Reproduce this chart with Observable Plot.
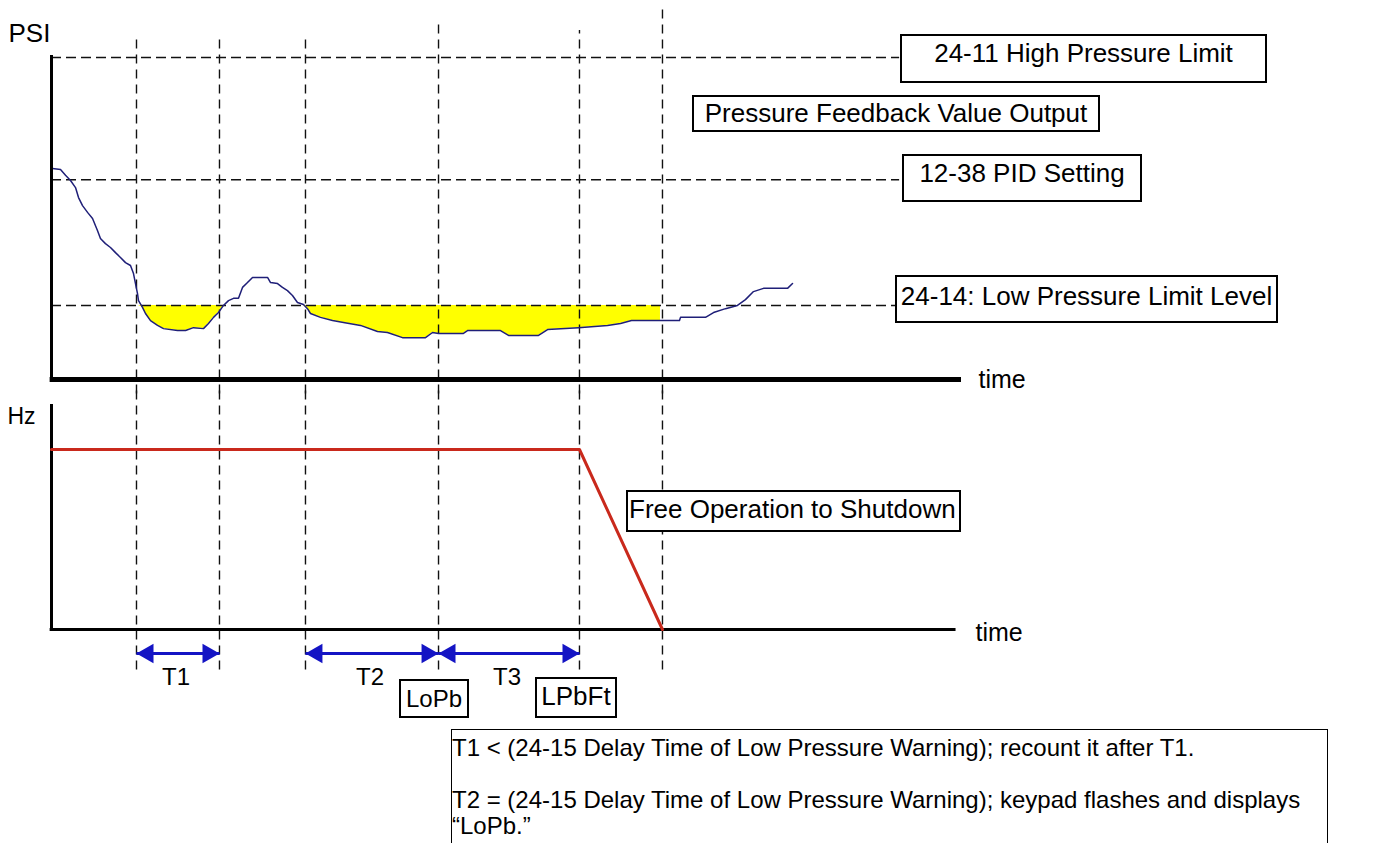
<!DOCTYPE html>
<html><head><meta charset="utf-8">
<script src="https://cdn.jsdelivr.net/npm/d3@7"></script>
<script src="https://cdn.jsdelivr.net/npm/@observablehq/plot@0.6"></script>
<style>
html,body{margin:0;padding:0;background:#fff;}
#chart{position:relative;width:1384px;height:843px;overflow:hidden;font-family:"Liberation Sans",Arial,sans-serif;color:#000;background:#fff;}
#chart svg{position:absolute;left:0;overflow:visible;}
.box{position:absolute;box-sizing:border-box;border:2px solid #000;background:#fff;font-size:26px;line-height:26px;text-align:center;white-space:nowrap;overflow:hidden;}
</style></head><body><div id="chart"></div>
<script>
// ---------------- data ----------------
// pressure feedback curve (time units, PSI units)
const pTime = [0.11,0.99,1.54,2.09,2.64,2.97,3.41,3.96,4.51,5.05,5.38,5.93,6.48,7.03,7.58,8.13,8.68,9.01,9.23,9.45,9.56,10.0,10.33,10.88,11.65,12.31,13.85,14.73,15.6,16.7,17.25,17.8,18.35,18.9,19.45,20.0,20.55,20.99,21.54,22.09,23.74,24.07,24.84,25.38,25.93,26.48,27.03,27.69,28.13,28.46,29.56,30.88,32.09,33.96,35.82,36.92,38.57,41.1,41.87,42.53,45.27,45.71,49.34,50.22,53.52,54.51,57.91,61.1,62.53,63.74,66.92,69.01,69.12,71.87,72.75,74.07,75.38,76.26,77.14,78.24,80.88,81.43];
const pPsi = [65.5,65.2,63.4,61.8,59.6,56.5,54.0,51.9,50.0,46.3,43.8,42.2,41.0,39.4,37.9,36.3,35.4,32.9,29.8,26.7,24.5,22.4,20.5,18.3,16.8,15.8,15.2,15.2,16.1,15.8,17.4,19.3,20.8,23.0,24.5,25.2,25.2,28.6,30.1,31.7,31.7,30.1,29.8,28.6,27.6,26.1,23.9,23.3,22.0,20.5,19.3,18.3,17.7,16.8,14.9,14.6,13.0,13.0,14.6,14.3,14.3,15.2,15.2,13.7,13.7,15.5,16.1,16.8,17.4,18.3,18.3,18.3,19.3,19.3,20.8,22.0,23.0,24.8,27.3,28.3,28.3,29.8];
// threshold levels (PSI)
const levelNames = ["24-11 High Pressure Limit", "12-38 PID Setting", "24-14: Low Pressure Limit Level"];
const levelPsi = [100, 62, 23];
// event times (vertical markers)
const eventTimes = [9.34, 18.46, 27.91, 42.53, 58.02, 67.14];
// output frequency (Hz)
const hzTime = [0, 58.02, 67.14];
const hzValue = [60, 60, 0];
// intervals
const intervalNames = ["T1", "T2", "T3"];
const intervalStart = [9.34, 27.91, 42.53];
const intervalEnd = [18.46, 42.53, 58.02];
// annotation texts
const curveLabel = "Pressure Feedback Value Output";
const freqLabel = "Free Operation to Shutdown";
const stateLabels = ["LoPb", "LPbFt"];
const notes = [
  "T1 < (24-15 Delay Time of Low Pressure Warning); recount it after T1.",
  "T2 = (24-15 Delay Time of Low Pressure Warning); keypad flashes and displays \u201CLoPb.\u201D"
];

// ---------------- build ----------------
const FONT = '"Liberation Sans", Arial, sans-serif';
const BLUE = "#1414c4";
const lowPsi = levelPsi[2];
const rows = pTime.map((t, i) => ({t, psi: pPsi[i]}));
const fillRows = rows.filter(d => d.t <= eventTimes[5]);
const hzRows = hzTime.map((t, i) => ({t, hz: hzValue[i]}));
const intervals = intervalNames.map((name, i) => ({name, start: intervalStart[i], end: intervalEnd[i]}));
const eventTopPsi = [106.8, 106.8, 106.8, 110.6, 108.4, 115.2];

const chart = document.getElementById("chart");

const topPanel = Plot.plot({
  width: 1384, height: 392,
  marginLeft: 51, marginRight: 423, marginTop: 57, marginBottom: 13,
  x: {domain: [0, 100], axis: null},
  y: {domain: [0, 100], axis: null},
  style: {fontFamily: FONT, background: "transparent", color: "#000"},
  marks: [
    Plot.areaY(fillRows, {x: "t", y1: lowPsi, y2: d => Math.min(d.psi, lowPsi), fill: "#ffff00"}),
    Plot.ruleX(eventTimes, {x: d => d, y1: -4.5, y2: (d, i) => eventTopPsi[i], stroke: "#111", strokeWidth: 1.4, strokeDasharray: "9,6"}),
    Plot.ruleY(levelPsi, {y: d => d, x1: 0, x2: 93.2, stroke: "#111", strokeWidth: 1.5, strokeDasharray: "10,5"}),
    Plot.line(rows, {x: "t", y: "psi", stroke: "#1f1f78", strokeWidth: 1.5}),
    Plot.ruleX([0], {y1: 0, y2: 100.6, stroke: "#000", strokeWidth: 3}),
    Plot.ruleY([0], {x1: -0.15, x2: 100, stroke: "#000", strokeWidth: 5}),
    Plot.text(["PSI"], {x: 0, y: 107.5, textAnchor: "start", dx: -43, fontSize: 26, fill: "#000"}),
    Plot.text(["time"], {x: 100, y: 0, textAnchor: "start", dx: 17, fontSize: 25, fill: "#000"})
  ]
});
topPanel.style.top = "0px";
chart.appendChild(topPanel);

const bottomPanel = Plot.plot({
  width: 1384, height: 451,
  marginLeft: 51, marginRight: 423, marginTop: 12, marginBottom: 214,
  x: {domain: [0, 100], axis: null},
  y: {domain: [0, 75], axis: null},
  style: {fontFamily: FONT, background: "transparent", color: "#000"},
  marks: [
    Plot.ruleX(eventTimes, {x: d => d, y1: 79.5, y2: -15, stroke: "#111", strokeWidth: 1.4, strokeDasharray: "9,6"}),
    Plot.ruleX([0], {y1: 0, y2: 75, stroke: "#000", strokeWidth: 3}),
    Plot.ruleY([0], {x1: -0.15, x2: 99.4, stroke: "#000", strokeWidth: 3}),
    Plot.line(hzRows, {x: "t", y: "hz", stroke: "#c9291c", strokeWidth: 3}),
    Plot.link(intervals, {x1: "start", x2: "end", y1: -8, y2: -8, stroke: BLUE, strokeWidth: 3}),
    Plot.dot(intervals, {x: "end", y: -8, symbol: "triangle", rotate: 90, r: 7.3, fill: BLUE, stroke: "none", dx: -11.3}),
    Plot.dot(intervals, {x: "start", y: -8, symbol: "triangle", rotate: -90, r: 7.3, fill: BLUE, stroke: "none", dx: 11.3}),
    Plot.text(intervals, {x: d => (d.start + d.end) / 2, y: -16, text: "name", fontSize: 24, fill: "#000", dx: -2}),
    Plot.text(["Hz"], {x: 0, y: 71, textAnchor: "start", dx: -44, fontSize: 23, fill: "#000"}),
    Plot.text(["time"], {x: 100, y: 0, dy: 3, textAnchor: "start", dx: 14, fontSize: 25, fill: "#000"})
  ]
});
bottomPanel.style.top = "392px";
chart.appendChild(bottomPanel);

// ---------------- annotation boxes (layout) ----------------
function box(text, s) {
  const el = document.createElement("div");
  el.className = "box";
  el.textContent = text;
  Object.assign(el.style, s);
  chart.appendChild(el);
  return el;
}
box(levelNames[0], {left: "900px", top: "34px", width: "367px", height: "49px", paddingTop: "4px"});
box(curveLabel, {left: "692px", top: "95px", width: "408px", height: "37px", paddingTop: "3px"});
box(levelNames[1], {left: "902px", top: "154px", width: "240px", height: "48px", paddingTop: "4px"});
box(levelNames[2], {left: "895px", top: "275px", width: "383px", height: "48px", paddingTop: "6px"});
box(freqLabel, {left: "626px", top: "490px", width: "335px", height: "42px", paddingTop: "4px", textAlign: "left", paddingLeft: "1px"});
box(stateLabels[0], {left: "399px", top: "679px", width: "70px", height: "39px", paddingTop: "6px", fontSize: "24px", lineHeight: "24px"});
box(stateLabels[1], {left: "535px", top: "677px", width: "82px", height: "41px", paddingTop: "4px"});

const noteBox = box("", {left: "451px", top: "729px", width: "877px", height: "140px", paddingTop: "5px", textAlign: "left", whiteSpace: "normal", fontSize: "24px", lineHeight: "26px", borderWidth: "1.5px"});
notes.forEach((n, i) => {
  const p = document.createElement("div");
  p.textContent = n;
  if (i > 0) p.style.marginTop = "26px";
  noteBox.appendChild(p);
});
</script></body></html>
